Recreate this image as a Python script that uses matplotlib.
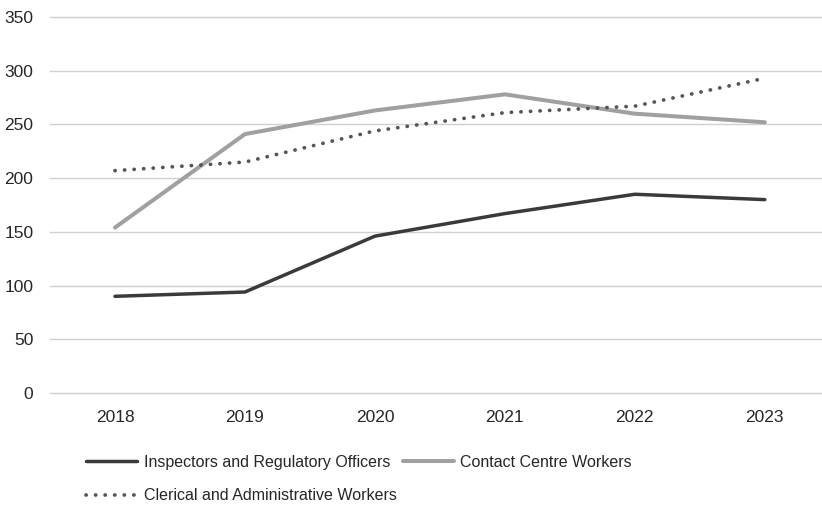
import matplotlib.pyplot as plt

years = ['2018', '2019', '2020', '2021', '2022', '2023']
inspectors = [90, 94, 146, 167, 185, 180]
contact = [154, 241, 263, 278, 260, 252]
clerical = [207, 215, 244, 261, 267, 293]

plt.rcParams['font.family'] = ['Liberation Sans', 'DejaVu Sans']

fig = plt.figure(figsize=(8.22, 5.05), dpi=100)
ax = fig.add_axes([50 / 822, 1 - 393 / 505, 772 / 822, 376 / 505])

x = range(len(years))
l1, = ax.plot(x, inspectors, color='#3a3a3a', lw=2.5, solid_capstyle='round')
l2, = ax.plot(x, contact, color='#a0a0a0', lw=2.9, solid_capstyle='round')
l3, = ax.plot(x, clerical, color='#555555', lw=2.7, linestyle=(0, (0.05, 2.5)),
              dash_capstyle='round')

ax.set_xlim(-0.5, 5.44)
ax.set_ylim(0, 350)
ax.set_yticks(range(0, 351, 50))
ax.set_xticks(list(x))
ax.set_xticklabels(years)
ax.grid(axis='y', color='#d0d0d0', lw=1)
ax.set_axisbelow(True)
for g in ax.get_ygridlines():
    g.set_clip_on(False)  # keep the 0 and 350 lines whole
for s in ax.spines.values():
    s.set_visible(False)
ax.tick_params(length=0, labelsize=12.5, colors='#262626')
ax.tick_params(axis='y', pad=12)
ax.tick_params(axis='x', pad=12)

fig.legend([l1, l3, l2],
           ['Inspectors and Regulatory Officers', 'Clerical and Administrative Workers',
            'Contact Centre Workers'],
           ncol=2, loc='upper left', bbox_to_anchor=(86 / 822, 1 - 455 / 505),
           frameon=False, fontsize=11.5, handlelength=3.2, handletextpad=0.4,
           columnspacing=0.4, labelspacing=1.15, borderaxespad=0, borderpad=0,
           labelcolor='#262626')

fig.savefig('out.png', dpi=100)
